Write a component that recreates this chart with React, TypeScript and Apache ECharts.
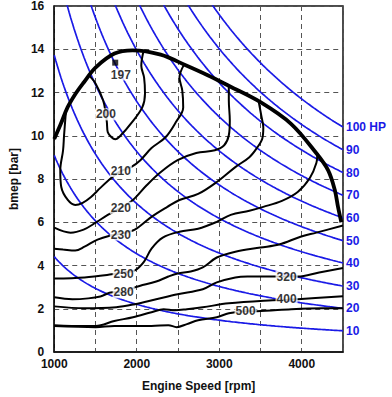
import React, { useEffect, useRef } from 'react';
import * as echarts from 'echarts';

const FONT = '"Liberation Sans", Arial, Helvetica, sans-serif';
const BLUE = '#1a1ae6';

// constant-power lines: label and bmep read at 4500 rpm (right edge)
const powerLabels = ['10', '20', '30', '40', '50', '60', '70', '80', '90', '100 HP'];
const powerBmepAt4500 = [0.98, 2.02, 3.05, 4.12, 5.15, 6.2, 7.25, 8.3, 9.35, 10.4];

// full-load (max bmep) curve [rpm, bmep]
const fullLoad = [
  [1000, 9.85], [1080, 10.55], [1160, 11.3], [1260, 11.95], [1355, 12.45], [1500, 13.15],
  [1730, 13.8], [1950, 13.95], [2290, 13.75], [2600, 13.25], [2860, 12.8], [3120, 12.3],
  [3500, 11.55], [3870, 10.55], [4175, 9.2], [4320, 8.4], [4400, 7.5], [4440, 6.7], [4480, 6.0],
];

// BSFC contours [rpm, bmep]
const c200 = [
  [1423, 12.78], [1502, 12.41], [1593, 11.63], [1626, 10.99], [1638, 10.62], [1649, 10.16],
  [1694, 9.93], [1739, 9.84], [1807, 10.02], [1931, 10.57], [2067, 11.31], [2100, 11.95],
  [2089, 12.69], [2055, 13.24], [2078, 13.85],
];
const c210 = [
  [1140, 11.05], [1119, 10.02], [1107, 9.33], [1073, 8.41], [1085, 7.63], [1164, 7.03],
  [1254, 6.8], [1344, 6.9], [1446, 7.17], [1559, 7.59], [1705, 8.09], [1807, 8.37],
  [1931, 8.55], [2044, 8.87], [2179, 9.43], [2349, 9.93], [2473, 10.62], [2563, 11.31],
  [2552, 12.09], [2518, 12.69], [2575, 13.3],
];
const c220 = [
  [1000, 5.75], [1198, 5.52], [1356, 5.66], [1502, 5.98], [1649, 6.34], [1807, 6.67],
  [1954, 7.03], [2123, 7.72], [2292, 8.32], [2495, 8.87], [2721, 9.2], [2947, 9.33],
  [3060, 9.56], [3116, 10.02], [3128, 10.71], [3116, 11.63], [3116, 12.3],
];
const c230 = [
  [1000, 4.78], [1107, 4.74], [1254, 4.69], [1367, 4.87], [1525, 5.2], [1672, 5.38],
  [1807, 5.47], [1976, 5.66], [2179, 6.25], [2371, 6.71], [2518, 7.03], [2744, 7.31],
  [2970, 7.86], [3195, 8.55], [3365, 9.01], [3455, 9.43], [3523, 9.89], [3534, 10.39],
  [3511, 10.9], [3478, 11.58],
];
const c250 = [
  [1000, 3.4], [1367, 3.45], [1694, 3.59], [1841, 3.68], [1976, 3.77], [2089, 4.18],
  [2179, 4.78], [2315, 5.29], [2518, 5.56], [2744, 5.7], [2970, 6.02], [3139, 6.34],
  [3365, 6.53], [3534, 6.71], [3760, 6.99], [3951, 7.4], [4098, 8.05], [4177, 8.74],
  [4189, 9.2],
];
const c280 = [
  [1000, 2.53], [1220, 2.44], [1412, 2.48], [1559, 2.57], [1705, 2.76], [1852, 2.76],
  [1976, 2.99], [2236, 3.26], [2383, 3.49], [2495, 3.63], [2654, 3.72], [2800, 3.91],
  [2970, 4.37], [3195, 4.64], [3500, 4.83], [3726, 4.97], [3985, 5.33], [4177, 5.52],
  [4500, 5.85],
];
const c320 = [
  [1000, 2.11], [1367, 2.02], [1751, 2.07], [1976, 2.21], [2236, 2.44], [2495, 2.67],
  [2800, 2.9], [2970, 3.22], [3195, 3.45], [3342, 3.49], [3647, 3.49], [3816, 3.49],
  [3951, 3.49], [4211, 3.68], [4500, 3.88],
];
const c400 = [
  [1000, 1.24], [1367, 1.2], [1502, 1.2], [1728, 1.43], [1954, 1.61], [2179, 1.84],
  [2326, 1.98], [2462, 1.93], [2608, 1.98], [2800, 2.07], [3116, 2.25], [3647, 2.39],
  [3816, 2.41], [3951, 2.44], [4500, 2.58],
];
const c500 = [
  [1000, 1.2], [1502, 1.15], [1728, 1.2], [2179, 1.2], [2383, 1.24], [2484, 1.15],
  [2608, 1.29], [2744, 1.47], [2970, 1.61], [3116, 1.79], [3319, 1.89], [3455, 1.89],
  [3873, 1.98], [4245, 2.02], [4500, 2.02],
];
const contours = [c200, c210, c220, c230, c250, c280, c320, c400, c500];

// best point marker
const bestPoint = [1739, 13.38];

// contour labels [text, rpm, bmep]
const labelTexts = ['197', '200', '210', '220', '230', '250', '280', '320', '400', '500'];
const labelRpm = [1807, 1626, 1807, 1807, 1807, 1841, 1841, 3816, 3816, 3319];
const labelBmep = [12.83, 10.99, 8.37, 6.67, 5.43, 3.63, 2.76, 3.49, 2.44, 1.89];

function isoPowerLine(b45: number) {
  const pts: number[][] = [];
  const start = Math.max(1000, Math.floor((b45 * 4500) / 16.5 / 10) * 10);
  for (let n = start; n < 4500; n += 20) pts.push([n, (b45 * 4500) / n]);
  pts.push([4500, b45]);
  return pts;
}

export default function App() {
  const ref = useRef<HTMLDivElement>(null);
  useEffect(() => {
    if (!ref.current) return;
    const chart = echarts.init(ref.current, undefined, { renderer: 'svg' });
    const series: any[] = [];
    powerBmepAt4500.forEach((b, i) => {
      series.push({
        type: 'line',
        data: isoPowerLine(b),
        showSymbol: false,
        silent: true,
        z: 2,
        lineStyle: { color: BLUE, width: 1.7 },
        endLabel: {
          show: true,
          formatter: powerLabels[i],
          color: BLUE,
          fontWeight: 'bold',
          fontSize: 12,
          fontFamily: FONT,
          distance: 3,
        },
      });
    });
    contours.forEach((c) => {
      series.push({
        type: 'line',
        data: c,
        smooth: 0.35,
        showSymbol: false,
        silent: true,
        z: 3,
        lineStyle: { color: '#000', width: 2 },
      });
    });
    series.push({
      type: 'line',
      data: fullLoad,
      smooth: 0.35,
      showSymbol: false,
      silent: true,
      z: 4,
      lineStyle: { color: '#000', width: 3.8 },
    });
    series.push({
      type: 'scatter',
      data: [bestPoint],
      symbol: 'rect',
      symbolSize: 6,
      itemStyle: { color: '#000' },
      z: 5,
      silent: true,
    });
    series.push({
      type: 'scatter',
      data: labelTexts.map((t, i) => ({ name: t, value: [labelRpm[i], labelBmep[i]] })),
      symbolSize: 0,
      silent: true,
      z: 10,
      label: {
        show: true,
        position: 'inside',
        formatter: '{b}',
        color: '#000',
        fontWeight: 'bold',
        fontSize: 12,
        fontFamily: FONT,
        backgroundColor: '#fff',
        padding: [0, 1],
      },
    });

    chart.setOption({
      animation: false,
      backgroundColor: '#fff',
      grid: {
        left: 36,
        right: 49,
        top: 5,
        bottom: 44,
        show: true,
        borderColor: '#111',
        borderWidth: 1.5,
        backgroundColor: 'transparent',
      },
      xAxis: {
        type: 'value',
        min: 1000,
        max: 4500,
        interval: 500,
        name: 'Engine Speed [rpm]',
        nameLocation: 'middle',
        nameGap: 28,
        nameTextStyle: { fontWeight: 'bold', fontSize: 12, fontFamily: FONT, color: '#111' },
        axisLine: { show: true, lineStyle: { color: '#111', width: 1.5 } },
        axisTick: { show: false },
        axisLabel: {
          formatter: (v: number) => (v % 1000 === 0 ? String(v) : ''),
          fontWeight: 'bold',
          fontSize: 12,
          fontFamily: FONT,
          color: '#111',
          margin: 6,
        },
        splitLine: { show: true, lineStyle: { type: [5, 4], color: '#555', width: 1 } },
      },
      yAxis: {
        type: 'value',
        min: 0,
        max: 16,
        interval: 2,
        name: 'bmep [bar]',
        nameLocation: 'middle',
        nameRotate: 90,
        nameGap: 24,
        nameTextStyle: { fontWeight: 'bold', fontSize: 12, fontFamily: FONT, color: '#111' },
        axisLine: { show: true, lineStyle: { color: '#111', width: 1.5 } },
        axisTick: { show: false },
        axisLabel: {
          fontWeight: 'bold',
          fontSize: 12,
          fontFamily: FONT,
          color: '#111',
          margin: 10,
        },
        splitLine: { show: true, lineStyle: { type: [5, 4], color: '#555', width: 1 } },
      },
      series,
    });
    return () => chart.dispose();
  }, []);
  return (
    <div
      ref={ref}
      style={{ position: 'fixed', left: 0, top: 0, width: 392, height: 397, background: '#fff' }}
    />
  );
}
